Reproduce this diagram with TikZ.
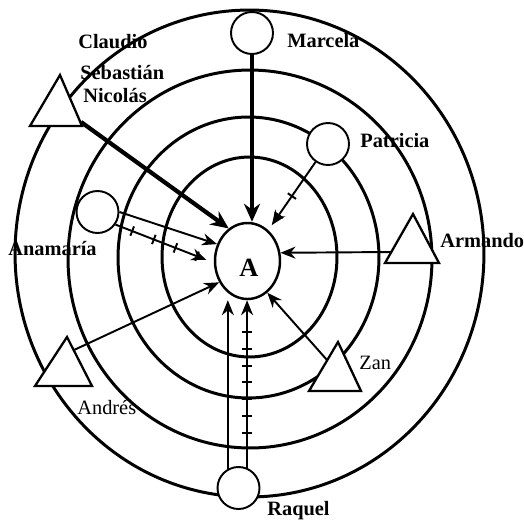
\documentclass[tikz,border=0pt]{standalone}
\usepackage{fontspec}
\setmainfont{Liberation Serif}
\usetikzlibrary{arrows.meta, shapes.geometric, decorations.markings}

\begin{document}
\begin{tikzpicture}[
    x=0.02cm, y=0.02cm,
    ring/.style={draw, line width=1.7pt},
    centre/.style={draw, ellipse, fill=white, line width=1.4pt, minimum width=1.3cm, minimum height=1.52cm, inner sep=0pt},
    person/.style={draw, circle, fill=white, line width=1.1pt, minimum size=0.84cm, inner sep=0pt},
    actor/.style={draw, fill=white, line width=1.3pt, line join=miter},
    lbl/.style={font=\fontsize{11.6}{14}\selectfont\bfseries, anchor=base west, inner sep=0pt},
    lbltxt/.style={font=\fontsize{11.6}{14}\selectfont, anchor=base west, inner sep=0pt},
    strong/.style={->, line width=2.4pt, >={Stealth[length=0.36cm, width=0.32cm]}},
    link/.style={->, line width=1.1pt, >={Stealth[length=0.3cm, width=0.24cm]}},
    ticked/.style n args={3}{postaction={decorate, decoration={markings,
      mark=between positions #1 and #2 step #3 with {\draw[-, shorten >=0pt, shorten <=0pt, line width=1.1pt] (0,-0.1cm) -- (0,0.1cm);}}}}
  ]
  \useasboundingbox (0,0) rectangle (524,-521);

  % rings
  \draw[ring] (249.5,-253.5) ellipse [x radius=4.69cm, y radius=4.87cm];
  \draw[ring] (250,-259) ellipse [x radius=3.64cm, y radius=3.78cm];
  \draw[ring] (248.5,-257.5) ellipse [x radius=2.61cm, y radius=2.81cm];
  \draw[ring] (249.5,-257) ellipse [x radius=1.75cm, y radius=2.0cm];

  % centre
  \node[centre] (A) at (247.5,-261) {};
  \node[font=\fontsize{15}{15}\selectfont\bfseries, inner sep=0pt] (atext) at (249,-267.5) {A};

  % circles
  \node[person] (marcela) at (252,-33) {};
  \node[person] (patricia) at (328,-144) {};
  \node[person] (anamaria) at (97.5,-212) {};
  \node[person] (raquel) at (238.5,-488) {};

  % triangles
  \draw[actor] (60,-75) -- (82,-126) -- (30,-126) -- cycle;
  \draw[actor] (413,-214) -- (439,-263) -- (385,-263) -- cycle;
  \draw[actor] (338,-342) -- (361,-391) -- (309,-391) -- cycle;
  \draw[actor] (67,-337) -- (92,-386) -- (35,-386) -- cycle;
  \coordinate (claudio) at (81,-122);
  \coordinate (armando) at (392,-252);
  \coordinate (zan) at (327,-360);
  \coordinate (andres) at (74,-350);

  % arrows
  \draw[strong] (marcela.south) -- (marcela.south |- A.north);
  \draw[strong] (claudio) -- (A.120);
  \draw[link, ticked={0.5}{0.8}{0.28}, shorten >=0.12cm] (patricia) -- (A.56);
  \draw[link] (armando) -- (A.14);
  \draw[link] (zan) -- (A.-58);
  \draw[link] (andres) -- (A.217);
  \draw[link] (anamaria.east) -- (A.151);
  \draw[link, ticked={0.17}{0.85}{0.22}, shorten >=0.16cm] (anamaria.-35) -- (A.183);
  \draw[link] (raquel.119) -- (raquel.119 |- A.south);
  \draw[link, ticked={0.21}{0.82}{0.1}] (raquel.67) -- (raquel.67 |- A.south);

  % names
  \node[lbl] (claudiotxt) at (78,-48) {Claudio};
  \node[lbl] (sebastiantxt) at (80,-79) {Sebastián};
  \node[lbl] (nicolastxt) at (83,-102) {Nicolás};
  \node[lbl] (marcelatxt) at (287,-47) {Marcela};
  \node[lbl] (patriciatxt) at (360,-147) {Patricia};
  \node[lbl] (armandotxt) at (440,-247) {Armando};
  \node[lbl] (anamariatxt) at (8,-255) {Anamaría};
  \node[lbltxt] (zantxt) at (359,-369) {Zan};
  \node[lbltxt] (andrestxt) at (77,-414) {Andrés};
  \node[lbl] (raqueltxt) at (267,-515) {Raquel};
\end{tikzpicture}
\end{document}
